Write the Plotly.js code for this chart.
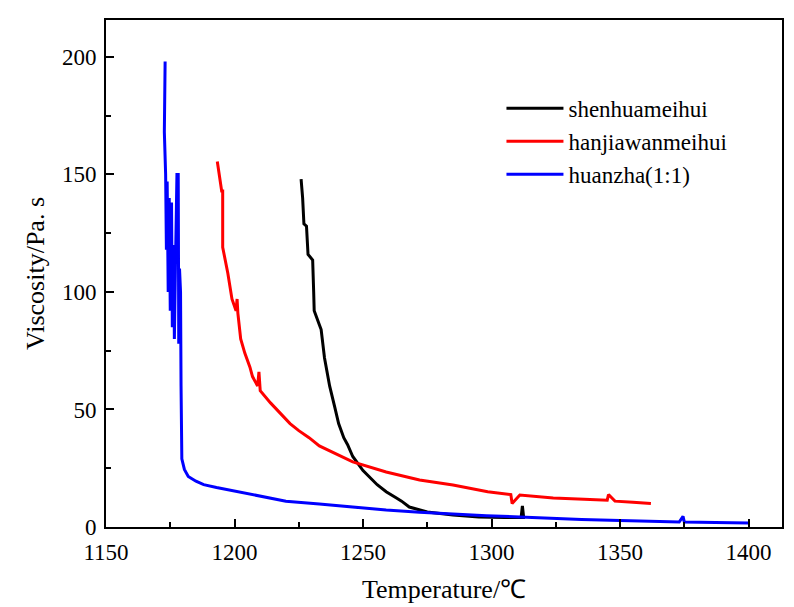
<!DOCTYPE html>
<html>
<head>
<meta charset="utf-8">
<script src="https://cdn.plot.ly/plotly-3.0.1.min.js"></script>
<style>html,body{margin:0;padding:0;background:#fff;}#chart{width:794px;height:607px;}</style>
</head>
<body>
<div id="chart"></div>
<script>
// shenhuameihui (black)
const shenhuaT = [1225.9,1226.5,1227,1228,1228.6,1230.4,1230.8,1231,1233,1233.7,1235,1235.8,1237,1239,1240.5,1242.5,1244,1246,1250,1255.5,1259,1263,1265,1268,1275,1285,1295,1305,1311.5,1312,1312.5,1313];
const shenhuaV = [148,140,129,128,116,113.6,100,92,86,84,72,67,60,51,44,38,35,30,24,18,15,12.3,11,8.5,6.4,5.1,4.3,4.0,4.0,9,4.0,4.0];

// hanjiawanmeihui (red)
const hanjiaT = [1193.3,1194,1195,1195.4,1195.4,1197.4,1199,1200.6,1201,1201.3,1202.4,1204,1206,1207,1209,1209.5,1210,1214,1218,1221.6,1225,1229,1233,1237,1246,1259,1272,1285,1298.5,1307.5,1308,1311,1324,1336,1345,1345.5,1348,1355,1362];
const hanjiaV = [155.5,150,143,143,119,108,97,92,97,91,80,74,68,64,60,66,58,52.8,48,44,41,38,34.5,32.5,27.7,23.4,20,17.9,15,13.8,10,13.6,12.3,11.8,11.4,13.8,11,10.5,10];

// huanzha(1:1) (blue)
const huanzhaT = [1173.0,1172.8,1172.7,1173.2,1173.5,1173.8,1174.2,1174.6,1175.0,1175.5,1175.8,1176.3,1176.6,1177.0,1177.6,1178.1,1178.3,1178.6,1179.0,1179.2,1179.3,1179.5,1180.5,1182,1185,1188,1193,1200,1210,1220,1233,1246,1259,1272,1285,1298,1311,1327,1335,1350,1360,1373,1374.5,1375,1387,1400];
const huanzhaV = [198,180,168,150,118,147,100,140,92,138,85,120,80,110,150,150,78,110,100,60,35,29,24.5,21.5,19.5,18,16.8,15.3,13,11,9.8,8.4,7.2,6.3,5.5,4.8,4.3,3.4,3.2,2.8,2.5,2.1,4.5,2.1,1.9,1.7];

const seriesNames = ["shenhuameihui", "hanjiawanmeihui", "huanzha(1:1)"];
const xTicks = [1150, 1200, 1250, 1300, 1350, 1400];
const yTicks = [0, 50, 100, 150, 200];

const font = "Liberation Serif, Times New Roman, serif";

const traces = [
  {x: shenhuaT, y: shenhuaV, name: seriesNames[0], mode: "lines", line: {color: "#000000", width: 3}},
  {x: hanjiaT, y: hanjiaV, name: seriesNames[1], mode: "lines", line: {color: "#ff0000", width: 3}},
  {x: huanzhaT, y: huanzhaV, name: seriesNames[2], mode: "lines", line: {color: "#0000ff", width: 3}}
];

const axisCommon = {
  showline: true, linecolor: "#000", linewidth: 2, mirror: true,
  ticks: "inside", ticklen: 8, tickwidth: 2, tickcolor: "#000",
  showgrid: false, zeroline: false,
  tickfont: {family: font, size: 23, color: "#000"}
};

const layout = {
  width: 794, height: 607,
  margin: {l: 106, r: 12, t: 20, b: 80},
  paper_bgcolor: "#fff", plot_bgcolor: "#fff",
  showlegend: true,
  legend: {x: 0.585, y: 0.868, xanchor: "left", yanchor: "top", bgcolor: "rgba(0,0,0,0)",
           font: {family: font, size: 23, color: "#000"}, itemwidth: 57, tracegroupgap: 0},
  xaxis: Object.assign({}, axisCommon, {
    range: [1150, 1413], tickvals: xTicks, ticktext: xTicks.map(String),
    ticklabelstandoff: 3,
    minor: {ticks: "inside", ticklen: 5, tickwidth: 2, tickcolor: "#000", dtick: 25, tick0: 1150},
    title: {text: "Temperature/℃", font: {family: font, size: 26, color: "#000"}, standoff: 16}
  }),
  yaxis: Object.assign({}, axisCommon, {
    range: [0, 215.7], tickvals: yTicks, ticktext: yTicks.map(String),
    ticklabelstandoff: 3,
    minor: {ticks: "inside", ticklen: 5, tickwidth: 2, tickcolor: "#000", dtick: 25, tick0: 0},
    title: {text: "Viscosity/Pa. s", font: {family: font, size: 26, color: "#000"}, standoff: 10}
  })
};

Plotly.newPlot("chart", traces, layout, {displayModeBar: false, staticPlot: true});
</script>
</body>
</html>
